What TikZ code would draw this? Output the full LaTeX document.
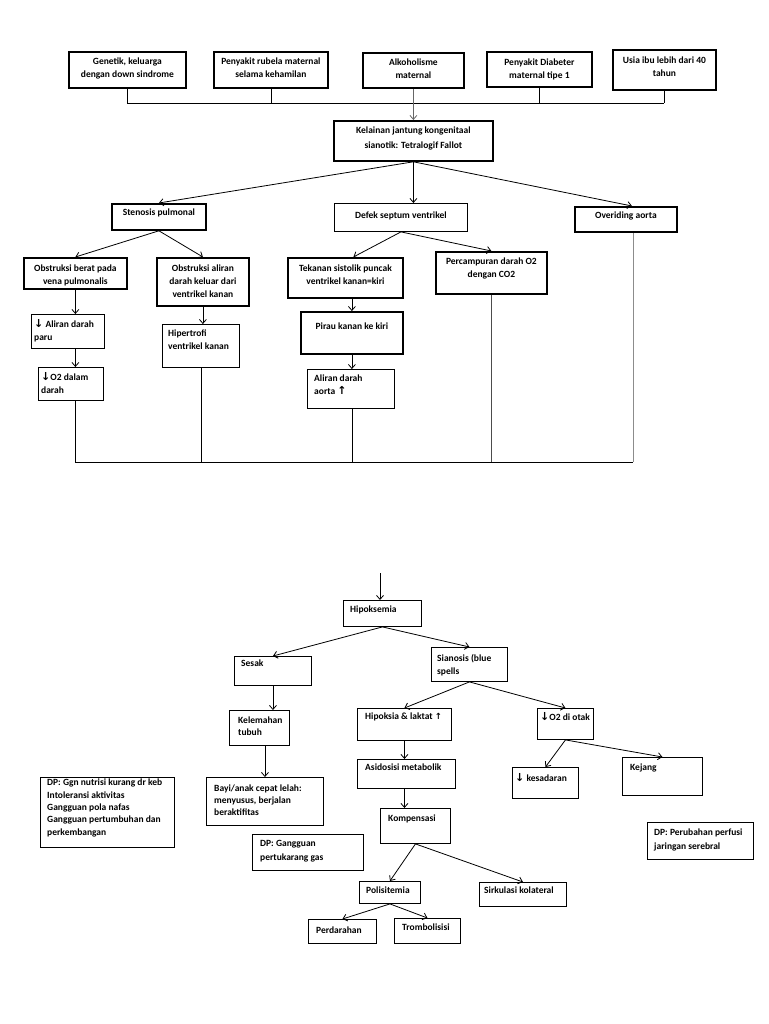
\documentclass[tikz,border=0pt]{standalone}
\usepackage{fontspec}
\setmainfont{Carlito}
\newfontfamily\sym{DejaVu Sans}
\newcommand\arrDn{{\sym\fontsize{11}{10}\selectfont↓}}
\newcommand\arrUp{{\sym\fontsize{11}{10}\selectfont↑}}
\newcommand\arrUpS{{\sym\fontsize{8.5}{8}\selectfont↑}}
\usetikzlibrary{arrows.meta}
\begin{document}
\begin{tikzpicture}[x=1pt,y=-1pt,
 base/.style={draw, anchor=north west, inner sep=0pt},
 bk/.style={base, line width=1.8pt},
 bn/.style={base, line width=0.9pt},
 tc/.style={anchor=north, align=center, inner sep=0pt, font=\bfseries\fontsize{9.5}{13}\selectfont},
 tl/.style={anchor=north west, align=left, inner sep=0pt, font=\bfseries\fontsize{9.5}{13}\selectfont},
 con/.style={line width=0.8pt},
 arr/.style={con, -{Straight Barb[length=4pt,width=7pt]}},
]
\fill[white] (0,0) rectangle (768,1024);
\useasboundingbox (0,0) rectangle (768,1024);

% ---------- top section ----------
\node[bk, minimum width=117, minimum height=36, label={[tc,yshift=-7pt]north:{Genetik, keluarga\\dengan down sindrome}}] (gen) at (68,51) {};
\node[bk, minimum width=114, minimum height=36, label={[tc,yshift=-7pt]north:{Penyakit rubela maternal\\selama kehamilan}}] (rub) at (213,51) {};
\node[bk, minimum width=101, minimum height=35, label={[tc,yshift=-7pt]north:{Alkoholisme\\maternal}}] (alk) at (362,52) {};
\node[bk, minimum width=105, minimum height=35, label={[tc,yshift=-8pt]north:{Penyakit Diabeter\\maternal tipe 1}}] (dia) at (486,51) {};
\node[bk, minimum width=103, minimum height=40, label={[tc,yshift=-8pt]north:{Usia ibu lebih dari 40\\tahun}}] (usia) at (612,49) {};
\node[bk, minimum width=159, minimum height=40, label={[tc,yshift=-7pt,font=\bfseries\fontsize{9.5}{15}\selectfont]north:{Kelainan jantung kongenitaal\\sianotik: Tetralogif Fallot}}] (kel) at (333,120) {};

\node[bk, minimum width=94, minimum height=26, label={[tc,yshift=-6pt]north:{Stenosis pulmonal}}] (sten) at (111,203) {};
\node[bn, minimum width=133, minimum height=28, label={[tc,yshift=-9pt]north:{Defek septum ventrikel}}] (def) at (334,203) {};
\node[bk, minimum width=102, minimum height=25, label={[tc,yshift=-6pt]north:{Overiding aorta}}] (ovr) at (574,206) {};

\node[bk, minimum width=103, minimum height=31, label={[tc,yshift=-8pt]north:{Obstruksi berat pada\\vena pulmonalis}}] (obs) at (23,257) {};
\node[bk, minimum width=92, minimum height=48, label={[tc,yshift=-8pt]north:{Obstruksi aliran\\darah keluar dari\\ventrikel kanan}}] (oba) at (156,257) {};
\node[bk, minimum width=115, minimum height=40, label={[tc,yshift=-8pt]north:{Tekanan sistolik puncak\\ventrikel kanan=kiri}}] (tek) at (287,257) {};
\node[bk, minimum width=111, minimum height=42, label={[tc,yshift=-7pt]north:{Percampuran darah O2\\dengan CO2}}] (perc) at (435,251) {};

\node[bn, minimum width=73, minimum height=34, label={[tl,xshift=3pt,yshift=-5pt]north west:{\arrDn\ Aliran darah\\paru}}] (alp) at (31,314) {};
\node[bn, minimum width=77, minimum height=43, label={[tl,xshift=6pt,yshift=-6pt]north west:{Hipertrofi\\ventrikel kanan}}] (hip) at (162,324) {};
\node[bn, minimum width=65, minimum height=33, label={[tl,xshift=3pt,yshift=-5pt]north west:{\arrDn O2 dalam\\darah}}] (o2d) at (38,367) {};
\node[bk, minimum width=102, minimum height=42, label={[tc,yshift=-12pt]north:{Pirau kanan ke kiri}}] (pir) at (300,311) {};
\node[bn, minimum width=87, minimum height=39, label={[tl,xshift=7pt,yshift=-6pt]north west:{Aliran darah\\aorta \arrUp}}] (ala) at (307,369) {};

\coordinate (bus) at (0,103);
\coordinate (bot) at (0,462);

\draw[con] (gen.south) -- (gen.south |- bus);
\draw[con] (rub.south) -- (rub.south |- bus);
\draw[con] (dia.south) -- (dia.south |- bus);
\draw[con] (usia.south) -- (usia.south |- bus);
\draw[con] (gen.south |- bus) -- (usia.south |- bus);
\draw[arr, black!60] (alk.south) -- (alk.south |- kel.north);

\draw[arr] (kel.south) -- (sten.north);
\draw[arr] (kel.south) -- (kel.south |- def.north);
\draw[arr] (kel.south) -- ([xshift=6pt]ovr.north);

\draw[arr] (sten.south) -- (obs.north);
\draw[arr] (sten.south) -- (oba.north);
\draw[arr] (def.south) -- ([xshift=8pt]tek.north);
\draw[arr] (def.south) -- (perc.north);

\draw[arr] (obs.south) -- (obs.south |- alp.north);
\draw[arr] (obs.south |- alp.south) -- (obs.south |- o2d.north);
\draw[arr] (oba.south) -- (oba.south |- hip.north);
\draw[arr] (tek.south -| pir.north) -- (pir.north);
\draw[arr] (pir.south) -- (pir.south |- ala.north);

\draw[con] (obs.south |- o2d.south) -- (obs.south |- bot) -- ([xshift=7pt]ovr.south |- bot);
\draw[con] (hip.south) -- (hip.south |- bot);
\draw[con] (pir.south |- ala.south) -- (pir.south |- bot);
\draw[con, black!70] (perc.south) -- (perc.south |- bot);
\draw[con, black!45] ([xshift=7pt]ovr.south) -- ([xshift=7pt]ovr.south |- bot);

% ---------- lower section ----------
\node[bn, minimum width=78, minimum height=26, label={[tl,xshift=7pt,yshift=-6pt]north west:{Hipoksemia}}] (hipo) at (343,600) {};
\node[bn, minimum width=77, minimum height=29, label={[tl,xshift=7pt,yshift=-4pt]north west:{Sesak}}] (ses) at (234,656) {};
\node[bn, minimum width=76, minimum height=34, label={[tl,xshift=6pt,yshift=-7pt]north west:{Sianosis (blue\\spells}}] (sia) at (431,647) {};
\node[bn, minimum width=60, minimum height=35, label={[tl,xshift=9pt,yshift=-7pt,font=\bfseries\fontsize{9.5}{12}\selectfont]north west:{Kelemahan\\tubuh}}] (kel2) at (229,710) {};
\node[bn, minimum width=117, minimum height=48, label={[tl,xshift=8pt,yshift=-8pt,font=\bfseries\fontsize{9.5}{12}\selectfont]north west:{Bayi/anak cepat lelah:\\menyusus, berjalan\\beraktifitas}}] (bayi) at (206,777) {};
\node[bn, minimum width=111, minimum height=36, label={[tl,xshift=8pt,yshift=-6pt,font=\bfseries\fontsize{9.5}{14}\selectfont]north west:{DP: Gangguan\\pertukarang gas}}] (dpg) at (252,834) {};
\node[bn, minimum width=134, minimum height=70, label={[tl,xshift=7pt,yshift=-2pt,font=\bfseries\fontsize{9.5}{12.3}\selectfont]north west:{DP: Ggn nutrisi kurang dr keb\\Intoleransi aktivitas\\Gangguan pola nafas\\Gangguan pertumbuhan dan\\perkembangan}}] (dpl) at (40,777) {};

\node[bn, minimum width=94, minimum height=32, label={[tl,xshift=8pt,yshift=-5pt]north west:{Hipoksia \& laktat \arrUpS}}] (hipk) at (357,708) {};
\node[bn, minimum width=56, minimum height=31, label={[tl,xshift=3pt,yshift=-4pt]north west:{\arrDn O2 di otak}}] (o2o) at (537,708) {};
\node[bn, minimum width=98, minimum height=29, label={[tl,xshift=8pt,yshift=-5pt]north west:{Asidosisi metabolik}}] (asd) at (357,759) {};
\node[bn, minimum width=66, minimum height=31, label={[tl,xshift=3pt,yshift=-6pt]north west:{\arrDn\ kesadaran}}] (kes) at (512,767) {};
\node[bn, minimum width=80, minimum height=38, label={[tl,xshift=8pt,yshift=-7pt]north west:{Kejang}}] (kej) at (622,757) {};
\node[bn, minimum width=70, minimum height=35, label={[tl,xshift=8pt,yshift=-7pt]north west:{Kompensasi}}] (komp) at (380,808) {};
\node[bn, minimum width=61, minimum height=22, label={[tl,xshift=7pt,yshift=-6pt]north west:{Polisitemia}}] (poli) at (359,881) {};
\node[bn, minimum width=87, minimum height=24, label={[tl,xshift=5pt,yshift=-5pt]north west:{Sirkulasi kolateral}}] (sirk) at (479,882) {};
\node[bn, minimum width=68, minimum height=24, label={[tl,xshift=8pt,yshift=-8pt]north west:{Perdarahan}}] (perd) at (308,919) {};
\node[bn, minimum width=66, minimum height=25, label={[tl,xshift=8pt,yshift=-6pt]north west:{Trombolisisi}}] (trom) at (394,918) {};
\node[bn, minimum width=106, minimum height=37, label={[tl,xshift=7pt,yshift=-7pt,font=\bfseries\fontsize{9.5}{14}\selectfont]north west:{DP: Perubahan perfusi\\jaringan serebral}}] (dpp) at (647,822) {};

\coordinate (start) at (380,573);
\draw[arr] (start) -- (start |- hipo.north);
\draw[arr] (hipo.south) -- (ses.north);
\draw[arr] (hipo.south) -- (sia.north);
\draw[arr] (ses.south) -- (ses.south |- kel2.north);
\draw[arr] (bayi.north |- kel2.south) -- (bayi.north);
\draw[arr] (sia.south) -- (hipk.north);
\draw[arr] (sia.south) -- (o2o.north);
\draw[arr] (hipk.south) -- (hipk.south |- asd.north);
\draw[arr] (hipk.south |- asd.south) -- (hipk.south |- komp.north);
\draw[arr] (komp.south) -- (poli.north);
\draw[arr] (komp.south) -- (sirk.north);
\draw[arr] (poli.south) -- (perd.north);
\draw[arr] (poli.south) -- (trom.north);
\draw[arr] (o2o.south) -- (kes.north);
\draw[arr] (o2o.south) -- (kej.north);
\end{tikzpicture}
\end{document}
